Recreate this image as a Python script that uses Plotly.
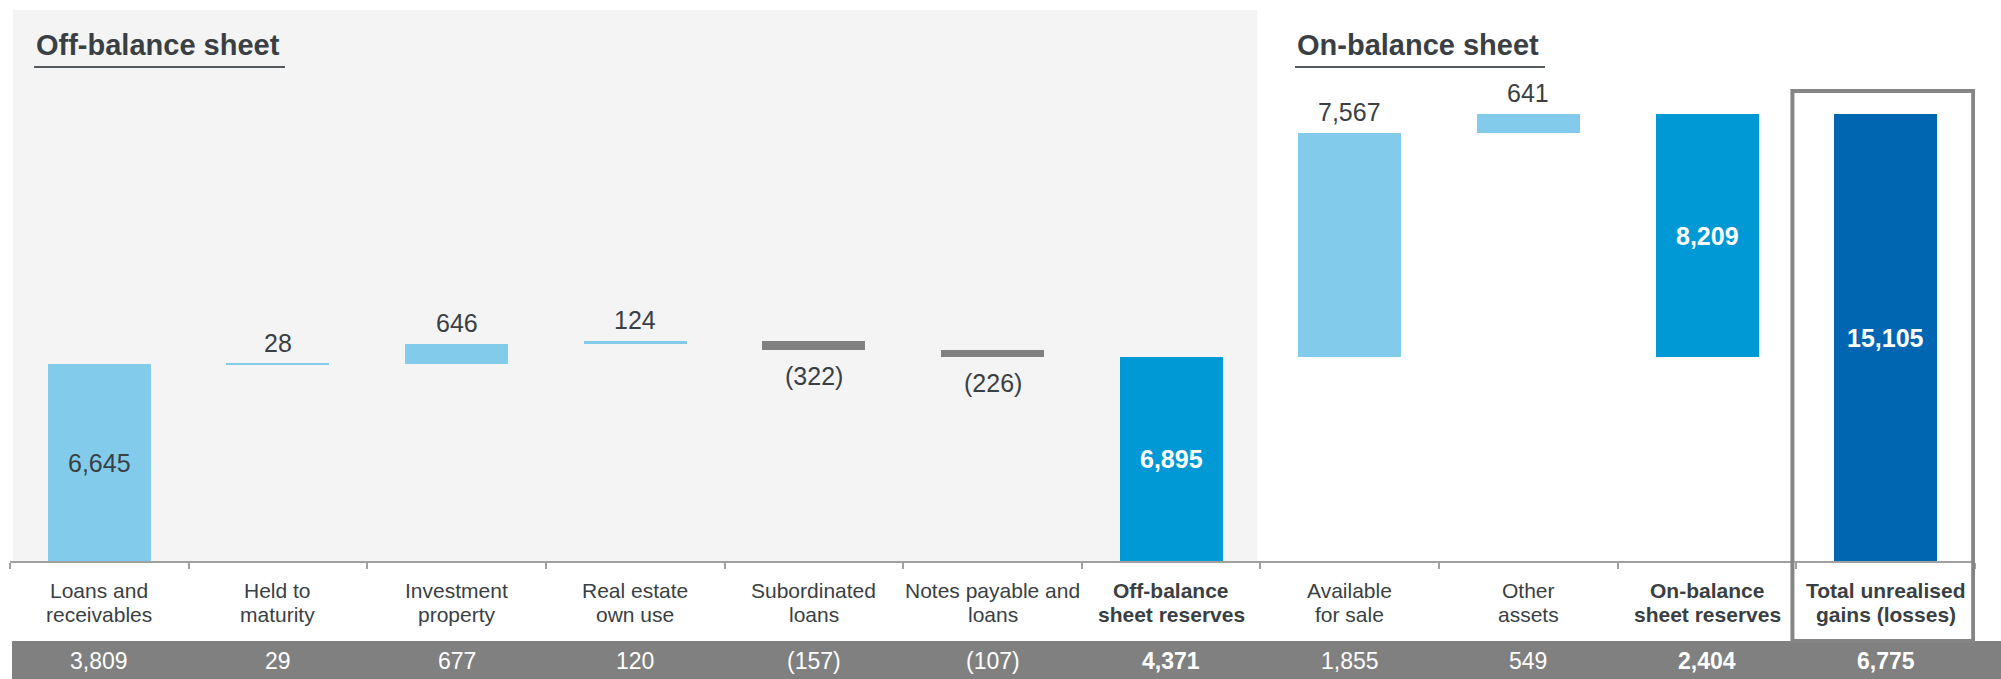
import plotly.graph_objects as go

# ---- data ----
categories = [
    "Loans and<br>receivables", "Held to<br>maturity", "Investment<br>property",
    "Real estate<br>own use", "Subordinated<br>loans", "Notes payable and<br>loans",
    "Off-balance<br>sheet reserves", "Available<br>for sale", "Other<br>assets",
    "On-balance<br>sheet reserves", "Total unrealised<br>gains (losses)",
]
reserve_values = [6645, 28, 646, 124, -322, -226, 6895, 7567, 641, 8209, 15105]
bar_kind = ["delta", "delta", "delta", "delta", "delta", "delta", "subtotal",
            "delta", "delta", "subtotal", "total"]
bottom_values = [3809, 29, 677, 120, -157, -107, 4371, 1855, 549, 2404, 6775]
section_titles = ["Off-balance sheet", "On-balance sheet"]

# ---- styling ----
LIGHT = "#82CBEB"
MID = "#0099D5"
DARK = "#0066B2"
NEG = "#808080"
TEXT = "#3A3F44"
FONT = "Arial, Liberation Sans, sans-serif"

W, H = 2001, 679
M_L, M_R, M_T, M_B = 10, 26, 10, 118
PLOT_H = H - M_T - M_B
PLOT_W = W - M_L - M_R
Y_TOP = 18620


def py2paper(py):
    return (H - M_B - py) / PLOT_H


def px2paper(px):
    return (px - M_L) / PLOT_W


def fmt(v):
    s = f"{abs(v):,}"
    return f"({s})" if v < 0 else s


# ---- waterfall bases computed from the data ----
off_n = 6  # number of off-balance items before the off-balance subtotal
bases, colors = [], []
running = 0
for i in range(off_n):
    v = reserve_values[i]
    bases.append(running)
    colors.append(LIGHT if v >= 0 else NEG)
    running += v
off_total = reserve_values[off_n]
bases.append(0)
colors.append(MID)
running = off_total
for i in range(off_n + 1, 9):
    bases.append(running)
    colors.append(LIGHT)
    running += reserve_values[i]
bases.append(off_total)   # on-balance subtotal stacked on off-balance subtotal
colors.append(MID)
bases.append(0)           # grand total
colors.append(DARK)

xs = list(range(len(categories)))

fig = go.Figure()
fig.add_trace(go.Bar(
    x=xs, y=reserve_values, base=bases, width=0.577,
    marker=dict(color=colors, line=dict(width=0)),
    hoverinfo="skip", showlegend=False,
))

annotations = []
shapes = []

# value labels on bars
for i, (v, b, k) in enumerate(zip(reserve_values, bases, bar_kind)):
    top = b + max(v, 0)
    bottom = b + min(v, 0)
    if k in ("subtotal", "total"):
        annotations.append(dict(x=i, y=b + v / 2, xref="x", yref="y",
                                text=f"<b>{fmt(v)}</b>", showarrow=False,
                                font=dict(family=FONT, size=25, color="white"),
                                yanchor="middle"))
    elif i == 0:
        annotations.append(dict(x=i, y=b + v / 2, xref="x", yref="y",
                                text=fmt(v), showarrow=False,
                                font=dict(family=FONT, size=25, color=TEXT),
                                yanchor="middle"))
    elif v >= 0:
        annotations.append(dict(x=i, y=top, xref="x", yref="y",
                                text=fmt(v), showarrow=False,
                                font=dict(family=FONT, size=25, color=TEXT),
                                yanchor="bottom", yshift=5))
    else:
        annotations.append(dict(x=i, y=bottom, xref="x", yref="y",
                                text=fmt(v), showarrow=False,
                                font=dict(family=FONT, size=25, color=TEXT),
                                yanchor="top", yshift=-10))

# category labels (one annotation per line for tighter line spacing)
bold_idx = {6, 9, 10}
line_py = [590, 614]
for i, c in enumerate(categories):
    for ln, part in enumerate(c.split("<br>")):
        t = f"<b>{part}</b>" if i in bold_idx else part
        annotations.append(dict(x=i, y=py2paper(line_py[ln]), xref="x", yref="paper",
                                text=t, showarrow=False, align="center",
                                font=dict(family=FONT, size=21, color=TEXT),
                                yanchor="middle"))

# bottom band
shapes.append(dict(type="rect", xref="paper", yref="paper",
                   x0=px2paper(12), x1=px2paper(W + 2),
                   y0=py2paper(H + 2), y1=py2paper(641),
                   fillcolor="#808080", line=dict(width=0), layer="below"))
for i, v in enumerate(bottom_values):
    t = f"<b>{fmt(v)}</b>" if i in bold_idx else fmt(v)
    annotations.append(dict(x=i, y=py2paper(661), xref="x", yref="paper",
                            text=t, showarrow=False,
                            font=dict(family=FONT, size=23, color="white"),
                            yanchor="middle"))

# off-balance panel
shapes.append(dict(type="rect", xref="x", yref="paper",
                   x0=-0.483, x1=6.482, y0=0, y1=1,
                   fillcolor="#F4F4F4", line=dict(width=0), layer="below"))

# total frame
shapes.append(dict(type="rect", xref="x", yref="paper",
                   x0=9.478, x1=10.49, y0=py2paper(641), y1=py2paper(91),
                   fillcolor="rgba(0,0,0,0)", line=dict(color="#858585", width=4),
                   layer="above"))

# section titles with underline
title_pos = [(34, 285), (1295, 1545)]
for (x0, x1), t in zip(title_pos, section_titles):
    annotations.append(dict(x=px2paper(x0), y=py2paper(45),
                            xref="paper", yref="paper", text=f"<b>{t}</b>",
                            showarrow=False, xanchor="left", yanchor="middle",
                            font=dict(family=FONT, size=29, color=TEXT)))
    shapes.append(dict(type="line", xref="paper", yref="paper",
                       x0=px2paper(x0), x1=px2paper(x1),
                       y0=py2paper(67), y1=py2paper(67),
                       line=dict(color="#555A5F", width=2)))

boundaries = [i - 0.5 for i in range(len(categories) + 1)]

fig.update_layout(
    width=W, height=H,
    margin=dict(l=M_L, r=M_R, t=M_T, b=M_B, pad=0),
    paper_bgcolor="white", plot_bgcolor="white",
    bargap=0,
    xaxis=dict(range=[-0.5, len(categories) - 0.5], showgrid=False, zeroline=False,
               showline=True, linecolor="#A0A0A0", linewidth=2,
               ticks="outside", ticklen=6, tickwidth=2, tickcolor="#A0A0A0",
               tickvals=boundaries, showticklabels=False, fixedrange=True),
    yaxis=dict(range=[0, Y_TOP], visible=False, showgrid=False, zeroline=False,
               fixedrange=True),
    annotations=annotations,
    shapes=shapes,
    font=dict(family=FONT, color=TEXT),
)

fig.write_html(
    "out.html",
    config={"displayModeBar": False},
    post_script="document.body.style.margin='0';document.body.style.overflow='hidden';",
)
